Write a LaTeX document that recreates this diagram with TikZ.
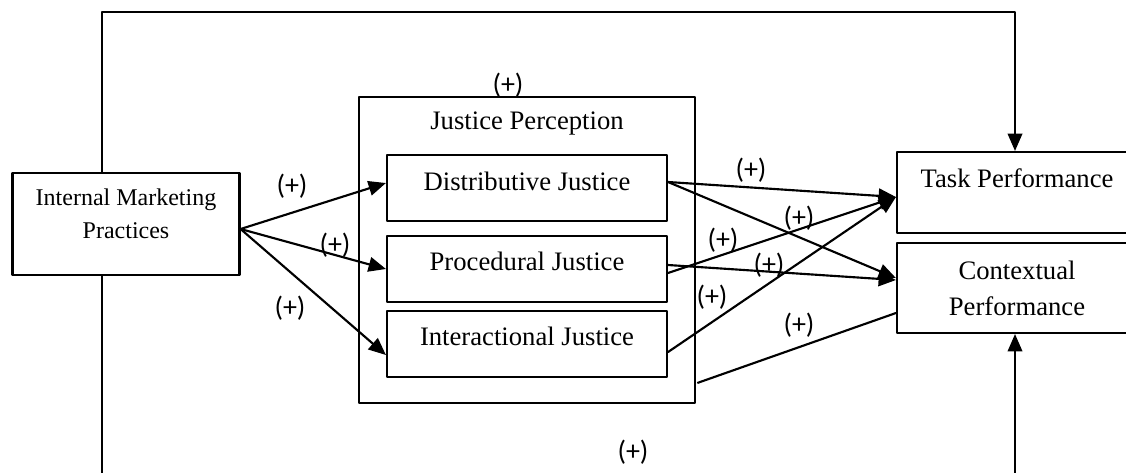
\documentclass[tikz,border=0pt]{standalone}
\usepackage{fontspec}
\setmainfont{Liberation Serif}
\newfontfamily\plusfont{Carlito}
\usetikzlibrary{arrows.meta,calc}

\begin{document}
\begin{tikzpicture}[line cap=round,line join=round,>={Triangle[length=13pt,width=11pt]},x=0.75pt,y=-0.75pt,
  box/.style={draw,line width=1.6pt,inner sep=0pt,align=center,font=\fontsize{20}{27}\selectfont},
  lnk/.style={->,line width=1.6pt},
  loopline/.style={line width=1.2pt},
  sgn/.style={font=\plusfont\fontsize{21}{24}\selectfont,inner sep=0pt}]
\useasboundingbox (0,0) rectangle (1126,472);
\clip(0,0) rectangle (1126,472);
% boxes
\node[box,minimum width=170.25pt,minimum height=76.5pt,font=\fontsize{18}{24.75}\selectfont,text height=26pt,text depth=5pt] (imp) at (126,224) {Internal Marketing\\Practices};
\node[box,line width=1.2pt,minimum width=252pt,minimum height=229.5pt,text height=14pt,text depth=194.3pt] (jp) at (527,250) {Justice Perception};
\node[box,minimum width=210pt,minimum height=49.5pt,text height=14pt,text depth=9.8pt] (dist) at (527,188) {Distributive Justice};
\node[box,minimum width=210pt,minimum height=49.5pt,text height=14pt,text depth=11.3pt] (proc) at (527,269) {Procedural Justice};
\node[box,minimum width=210pt,minimum height=49.5pt,text height=14pt,text depth=11.3pt] (inter) at (527,344) {Interactional Justice};
\node[box,minimum width=180pt,minimum height=60.75pt,text height=14pt,text depth=21.8pt] (task) at (1017,192.5) {Task Performance};
\node[box,minimum width=180pt,minimum height=67.5pt] (ctx) at (1017,288) {Contextual\\Performance};
% outer loop
\coordinate (tl) at (102,12);
\coordinate (tr) at (1015,12);
\coordinate (bl) at (102,490);
\coordinate (br) at (1015,490);
\draw[loopline,->] (imp.north -| tl) -- (tl) -- (tr) -- (task.north -| tr);
\draw[loopline,->] (imp.south -| bl) -- (bl) -- (br) -- (ctx.south -| br);
% arrows
\draw[lnk] ($(imp.east)+(0,5)$) -- ($(dist.west)+(0,-5)$);
\draw[lnk] ($(imp.east)+(0,5)$) -- (proc.west);
\draw[lnk] ($(imp.east)+(0,5)$) -- ($(inter.west)+(0,11)$);
\draw[lnk] ($(dist.east)+(0,-6)$) -- ($(task.west)+(0,4.5)$);
\draw[lnk] ($(dist.east)+(0,-6)$) -- ($(ctx.west)+(0,-10)$);
\draw[lnk] ($(proc.east)+(0,-4)$) -- ($(ctx.west)+(0,-8)$);
\draw[lnk] ($(proc.east)+(0,4)$) -- ($(task.west)+(0,4.5)$);
\draw[lnk] ($(inter.east)+(0,8)$) -- ($(task.west)+(0,4.5)$);
\draw[line width=1.6pt] ($(jp.south east)+(2,-21)$) -- ($(ctx.west)+(0,25)$);
% signs
\node[sgn] (s1) at (292,186) {(+)};
\node[sgn] (s2) at (335,245) {(+)};
\node[sgn] (s3) at (290,308) {(+)};
\node[sgn] (s4) at (508,85) {(+)};
\node[sgn] (s5) at (751,170) {(+)};
\node[sgn] (s6) at (799,218) {(+)};
\node[sgn] (s7) at (723,240) {(+)};
\node[sgn] (s8) at (769,265) {(+)};
\node[sgn] (s9) at (712,297) {(+)};
\node[sgn] (s10) at (799,325) {(+)};
\node[sgn] (s11) at (633,452) {(+)};
\end{tikzpicture}
\end{document}
